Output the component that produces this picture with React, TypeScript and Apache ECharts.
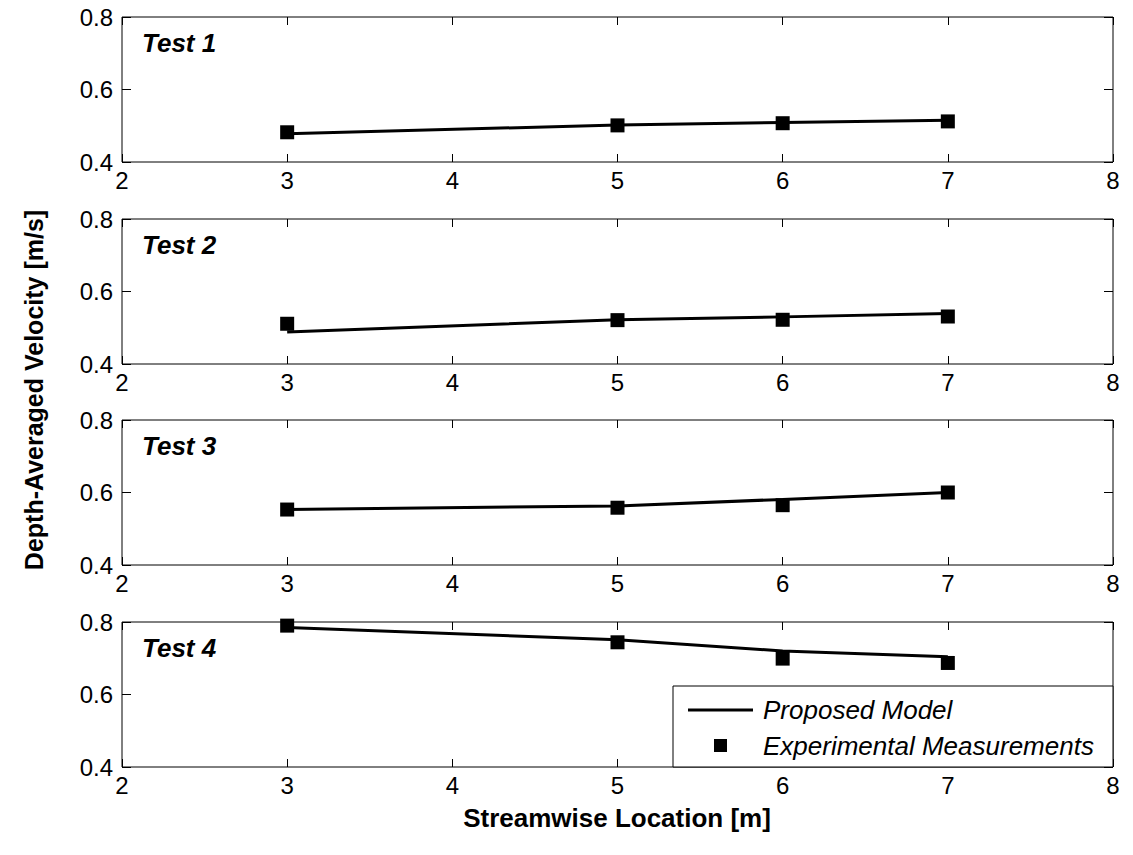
import React, { useEffect, useRef } from "react";
import * as echarts from "echarts";

const xLocations = [3, 5, 6, 7];
const testNames = ["Test 1", "Test 2", "Test 3", "Test 4"];
const model1 = [0.478, 0.502, 0.509, 0.515];
const exp1 = [0.482, 0.501, 0.507, 0.512];
const model2 = [0.488, 0.522, 0.53, 0.539];
const exp2 = [0.511, 0.521, 0.522, 0.531];
const model3 = [0.553, 0.563, 0.581, 0.6];
const exp3 = [0.553, 0.558, 0.565, 0.6];
const model4 = [0.785, 0.751, 0.72, 0.704];
const exp4 = [0.79, 0.744, 0.699, 0.687];
const modelSets = [model1, model2, model3, model4];
const expSets = [exp1, exp2, exp3, exp4];
const legendNames = ["Proposed Model", "Experimental Measurements"];
const xTitle = "Streamwise Location [m]";
const yTitle = "Depth-Averaged Velocity [m/s]";

const FONT = "'Liberation Sans', Arial, Helvetica, sans-serif";

export default function App() {
  const ref = useRef<HTMLDivElement>(null);
  useEffect(() => {
    if (!ref.current) return;
    const chart = echarts.init(ref.current, null, { renderer: "svg" });
    const tops = [17, 219, 420, 622];
    const H = 145;
    const L = 122;
    const R = 20;
    const grids: any[] = [];
    const xAxes: any[] = [];
    const yAxes: any[] = [];
    const series: any[] = [];
    const graphics: any[] = [];
    tops.forEach((t, i) => {
      grids.push({
        left: L,
        right: R,
        top: t,
        height: H,
        show: true,
        borderColor: "#000",
        borderWidth: 1,
        backgroundColor: "#fff",
      });
      const baseX = {
        type: "value",
        gridIndex: i,
        min: 2,
        max: 8,
        interval: 1,
        axisLine: { show: false },
        splitLine: { show: false },
        axisTick: { show: true, inside: true, length: 8, lineStyle: { color: "#000" } },
      };
      xAxes.push({
        ...baseX,
        position: "bottom",
        axisLabel: { show: true, color: "#000", fontSize: 24, fontFamily: FONT, margin: 6 },
      });
      xAxes.push({ ...baseX, position: "top", axisLabel: { show: false } });
      const baseY = {
        type: "value",
        gridIndex: i,
        min: 0.4,
        max: 0.8,
        interval: 0.2,
        axisLine: { show: false },
        splitLine: { show: false },
        axisTick: { show: true, inside: true, length: 9, lineStyle: { color: "#000" } },
      };
      yAxes.push({
        ...baseY,
        position: "left",
        axisLabel: {
          show: true,
          color: "#000",
          fontSize: 24,
          fontFamily: FONT,
          margin: 9,
          formatter: (v: number) => v.toFixed(1),
        },
      });
      yAxes.push({ ...baseY, position: "right", axisLabel: { show: false } });
      series.push({
        name: legendNames[0],
        type: "line",
        xAxisIndex: i * 2,
        yAxisIndex: i * 2,
        data: xLocations.map((x, k) => [x, modelSets[i][k]]),
        showSymbol: false,
        symbol: "none",
        lineStyle: { color: "#000", width: 3 },
        z: 3,
      });
      series.push({
        name: legendNames[1],
        type: "scatter",
        xAxisIndex: i * 2,
        yAxisIndex: i * 2,
        data: xLocations.map((x, k) => [x, expSets[i][k]]),
        symbol: "rect",
        symbolSize: 14,
        itemStyle: { color: "#000", opacity: 1 },
        z: 4,
      });
      graphics.push({
        type: "text",
        left: 142,
        top: t + 13,
        style: {
          text: testNames[i],
          font: `italic bold 26px ${FONT}`,
          fill: "#000",
        },
      });
    });
    // legend box
    const lx = 673;
    const ly = 686;
    const lw = 1113 - lx;
    const lh = 767 - ly;
    graphics.push({
      type: "group",
      z: 100,
      children: [
        {
          type: "rect",
          shape: { x: lx, y: ly, width: lw, height: lh },
          style: { fill: "#fff", stroke: "#000", lineWidth: 1 },
          z: 100,
        },
        {
          type: "line",
          shape: { x1: lx + 15, y1: ly + 24, x2: lx + 80, y2: ly + 24 },
          style: { stroke: "#000", lineWidth: 3 },
          z: 101,
        },
        {
          type: "rect",
          shape: { x: lx + 41, y: ly + 53, width: 13, height: 13 },
          style: { fill: "#000" },
          z: 101,
        },
        {
          type: "text",
          x: lx + 90,
          y: ly + 24,
          style: {
            text: legendNames[0],
            font: `italic 26px ${FONT}`,
            fill: "#000",
            verticalAlign: "middle",
          },
          z: 101,
        },
        {
          type: "text",
          x: lx + 90,
          y: ly + 60,
          style: {
            text: legendNames[1],
            font: `italic 26px ${FONT}`,
            fill: "#000",
            verticalAlign: "middle",
          },
          z: 101,
        },
      ],
    });
    graphics.push({
      type: "text",
      x: 617,
      y: 818,
      style: {
        text: xTitle,
        font: `bold 26px ${FONT}`,
        fill: "#000",
        align: "center",
        verticalAlign: "middle",
      },
    });
    graphics.push({
      type: "text",
      x: 34,
      y: 390,
      rotation: Math.PI / 2,
      style: {
        text: yTitle,
        font: `bold 25px ${FONT}`,
        fill: "#000",
        align: "center",
        verticalAlign: "middle",
      },
    });
    chart.setOption({
      animation: false,
      backgroundColor: "#fff",
      grid: grids,
      xAxis: xAxes,
      yAxis: yAxes,
      series,
      graphic: graphics,
    });
    return () => chart.dispose();
  }, []);
  return (
    <div
      ref={ref}
      style={{ position: "fixed", left: 0, top: 0, width: 1133, height: 855 }}
    />
  );
}
